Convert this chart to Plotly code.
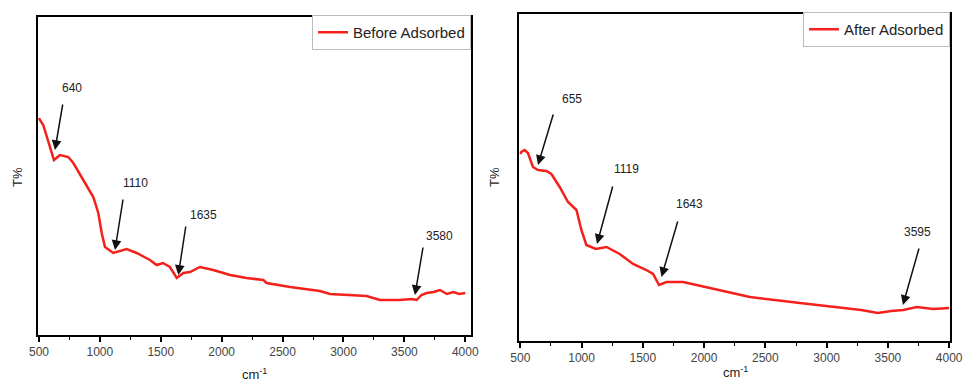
import plotly.graph_objects as go

# ---- Data (T% in arbitrary units) ----
before_wn = [500, 508, 535, 623, 672, 741, 782, 864, 946, 987, 1015, 1042, 1110, 1220, 1302,
             1411, 1466, 1518, 1575, 1631, 1685, 1740, 1822, 1931, 2069, 2205, 2342, 2369,
             2561, 2807, 2889, 3190, 3299, 3463, 3560, 3601, 3640, 3683, 3740, 3792, 3850,
             3902, 3950, 4000]
before_t = [217, 215, 210, 175, 180, 178, 172, 155, 138, 122, 102, 88, 82, 86, 82,
            75, 70, 72, 68, 57, 62, 63, 68, 65, 60, 57, 55, 52,
            48, 44, 41, 39, 35, 35, 36, 35, 40, 42, 43, 45, 41,
            43, 41, 42]

after_wn = [500, 508, 535, 562, 603, 644, 712, 753, 821, 889, 958, 998, 1039, 1115, 1203,
            1311, 1420, 1529, 1583, 1632, 1693, 1828, 1938, 2047, 2102, 2374, 2782, 3054,
            3282, 3418, 3527, 3626, 3735, 3871, 4000]
after_t = [187, 189, 191, 188, 174, 171, 170, 167, 154, 139, 131, 111, 96, 92, 94,
           87, 77, 71, 67, 56, 59, 59, 56, 53, 51, 44, 38, 34,
           31, 28, 30, 31, 34, 32, 33]

before_peaks = [640, 1110, 1635, 3580]
after_peaks = [655, 1119, 1643, 3595]

# annotation geometry (data coords): tip, tail, label
before_tip = [(631, 185), (1124, 85), (1644, 60), (3587, 40)]
before_tail = [(697, 232), (1192, 137), (1707, 110), (3655, 89)]
before_lab = [(771, 247), (1296, 152), (1847, 120), (3792, 99)]

after_tip = [(644, 176), (1126, 97), (1652, 64), (3623, 36)]
after_tail = [(772, 228), (1257, 156), (1788, 121), (3757, 94)]
after_lab = [(923, 242), (1368, 172), (1883, 137), (3742, 109)]

W, H = 963, 383
RED = "#f4201c"
FONT = "Liberation Sans, Arial, sans-serif"

fig = go.Figure()
fig.add_trace(go.Scatter(x=before_wn, y=before_t, mode="lines", name="Before Adsorbed",
                         line=dict(color=RED, width=2.5), legend="legend",
                         xaxis="x", yaxis="y"))
fig.add_trace(go.Scatter(x=after_wn, y=after_t, mode="lines", name="After Adsorbed",
                         line=dict(color=RED, width=2.5), legend="legend2",
                         xaxis="x2", yaxis="y2"))

def px_x(p):
    return p / W

def px_y(p):
    return (H - p) / H

axis_common = dict(showline=True, linecolor="black", linewidth=2, mirror=True,
                   showgrid=False, zeroline=False, automargin=False)

xcommon = dict(axis_common, ticks="outside", ticklen=5, tickwidth=1.5, tickcolor="black",
               tickvals=[500, 1000, 1500, 2000, 2500, 3000, 3500, 4000],
               tickfont=dict(family=FONT, size=12, color="#444"),
               minor=dict(ticks="outside", ticklen=3, tickwidth=1, dtick=250, tick0=500,
                          tickcolor="black", showgrid=False))
ycommon = dict(axis_common, showticklabels=False, ticks="")

annotations = []
for tips, tails, labs, peaks, xr, yr in [
        (before_tip, before_tail, before_lab, before_peaks, "x", "y"),
        (after_tip, after_tail, after_lab, after_peaks, "x2", "y2")]:
    for tip, tail, lab, pk in zip(tips, tails, labs, peaks):
        annotations.append(dict(x=tip[0], y=tip[1], ax=tail[0], ay=tail[1],
                                xref=xr, yref=yr, axref=xr, ayref=yr, text="",
                                showarrow=True, arrowhead=2, arrowsize=1.3,
                                arrowwidth=1.5, arrowcolor="#111"))
        annotations.append(dict(x=lab[0], y=lab[1], xref=xr, yref=yr, text=str(pk),
                                showarrow=False, font=dict(family=FONT, size=12, color="#222")))

label_font = dict(family=FONT, size=13, color="#222")
annotations += [
    dict(x=px_x(17), y=px_y(177), xref="paper", yref="paper", text="T%", textangle=-90,
         xanchor="center", yanchor="middle", showarrow=False, font=label_font),
    dict(x=px_x(494), y=px_y(177), xref="paper", yref="paper", text="T%", textangle=-90,
         xanchor="center", yanchor="middle", showarrow=False, font=label_font),
    dict(x=px_x(255), y=px_y(374), xref="paper", yref="paper", text="cm<sup>-1</sup>",
         xanchor="center", yanchor="middle", showarrow=False, font=label_font),
    dict(x=px_x(735), y=px_y(372), xref="paper", yref="paper", text="cm<sup>-1</sup>",
         xanchor="center", yanchor="middle", showarrow=False, font=label_font),
]

legend_common = dict(bgcolor="white", bordercolor="#bbbbbb", borderwidth=1,
                     xanchor="right", yanchor="top",
                     font=dict(family=FONT, size=15, color="#222"),
                     tracegroupgap=0, itemwidth=30)

fig.update_layout(
    width=W, height=H, autosize=False,
    margin=dict(l=0, r=0, t=0, b=0, pad=0, autoexpand=False),
    paper_bgcolor="white", plot_bgcolor="white",
    showlegend=True,
    xaxis=dict(xcommon, domain=[px_x(38), px_x(471)], range=[492, 4047], anchor="y"),
    yaxis=dict(ycommon, domain=[px_y(335), px_y(17)], range=[0, 318], anchor="x"),
    xaxis2=dict(xcommon, domain=[px_x(519), px_x(950)], range=[489, 4007], anchor="y2"),
    yaxis2=dict(ycommon, domain=[px_y(341), px_y(14)], range=[0, 327], anchor="x2"),
    legend=dict(legend_common, x=px_x(471), y=px_y(15)),
    legend2=dict(legend_common, x=px_x(950), y=px_y(12)),
    annotations=annotations,
)

fig.write_html("out.html", config={"displayModeBar": False},
               post_script="document.body.style.margin='0';document.body.style.padding='0';")
